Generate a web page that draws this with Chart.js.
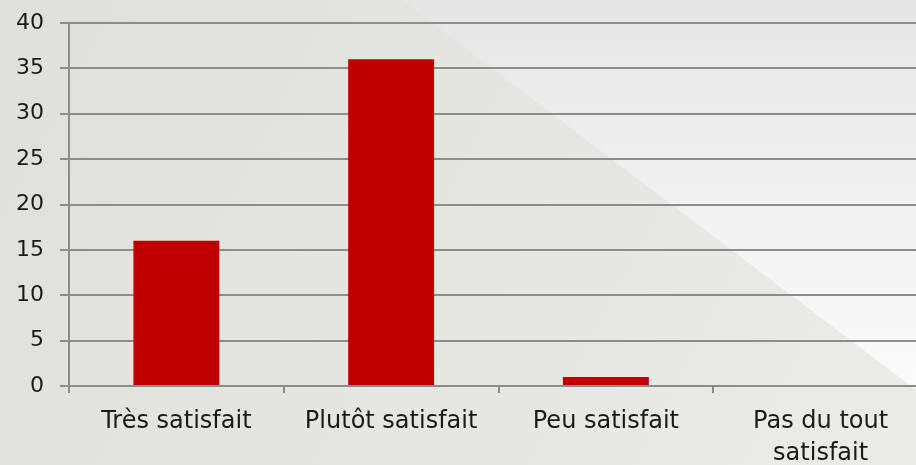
<!DOCTYPE html>
<html>
<head>
<meta charset="utf-8">
<script src="https://cdn.jsdelivr.net/npm/chart.js@4"></script>
<style>
  html, body { margin: 0; padding: 0; background: #e4e4e0; }
  #wrap { width: 916px; height: 465px; position: relative; overflow: hidden; }
</style>
</head>
<body>
<div id="wrap"><canvas id="chart" width="928" height="465"></canvas></div>
<script>
// chart data
const categories = ['Très satisfait', 'Plutôt satisfait', 'Peu satisfait', ['Pas du tout', 'satisfait']];
const responses = [16, 36, 1, 0];
const yTicks = [0, 5, 10, 15, 20, 25, 30, 35, 40];

const FONT = "'DejaVu Sans', sans-serif";

// slide-like background with a lighter triangle in the top right
const backdrop = {
  id: 'backdrop',
  beforeDraw(chart) {
    const { ctx, width, height } = chart;
    ctx.save();
    const base = ctx.createLinearGradient(0, 0, 916, height);
    base.addColorStop(0, '#e0e0db');
    base.addColorStop(1, '#ebebe7');
    ctx.fillStyle = base;
    ctx.fillRect(0, 0, width, height);

    const tri = ctx.createLinearGradient(0, 0, 0, 390);
    tri.addColorStop(0, '#e6e6e6');
    tri.addColorStop(1, '#fbfbfb');
    ctx.fillStyle = tri;
    ctx.beginPath();
    ctx.moveTo(402, 0);
    ctx.lineTo(width, 0);
    ctx.lineTo(width, 399);
    ctx.closePath();
    ctx.fill();
    ctx.restore();
  }
};

new Chart(document.getElementById('chart'), {
  type: 'bar',
  data: {
    labels: categories,
    datasets: [{
      data: responses,
      backgroundColor: '#c00000',
      borderWidth: 0,
      barPercentage: 0.4,
      categoryPercentage: 1
    }]
  },
  plugins: [backdrop],
  options: {
    responsive: false,
    animation: false,
    layout: { padding: { top: 23, right: 0, left: 0, bottom: 0 } },
    plugins: { legend: { display: false }, tooltip: { enabled: false } },
    scales: {
      x: {
        grid: { drawOnChartArea: false, drawTicks: true, tickLength: 7, color: '#8c8c8c', lineWidth: 2 },
        border: { display: false },
        ticks: { color: '#1a1a1a', font: { family: FONT, size: 24, lineHeight: 1.32 }, padding: 13, maxRotation: 0, autoSkip: false },
        afterFit(scale) { scale.height = 79; }
      },
      y: {
        min: 0,
        max: 40,
        afterBuildTicks(scale) { scale.ticks = yTicks.map(v => ({ value: v })); },
        grid: { color: '#8c8c8c', lineWidth: 2, tickLength: 9 },
        border: { color: '#8c8c8c', width: 2 },
        ticks: { color: '#1a1a1a', font: { family: FONT, size: 22 }, padding: 16 },
        afterFit(scale) {
          scale.width = 69;
          scale.paddingTop = 0;
          scale.paddingBottom = 0;
        }
      }
    }
  }
});
</script>
</body>
</html>
